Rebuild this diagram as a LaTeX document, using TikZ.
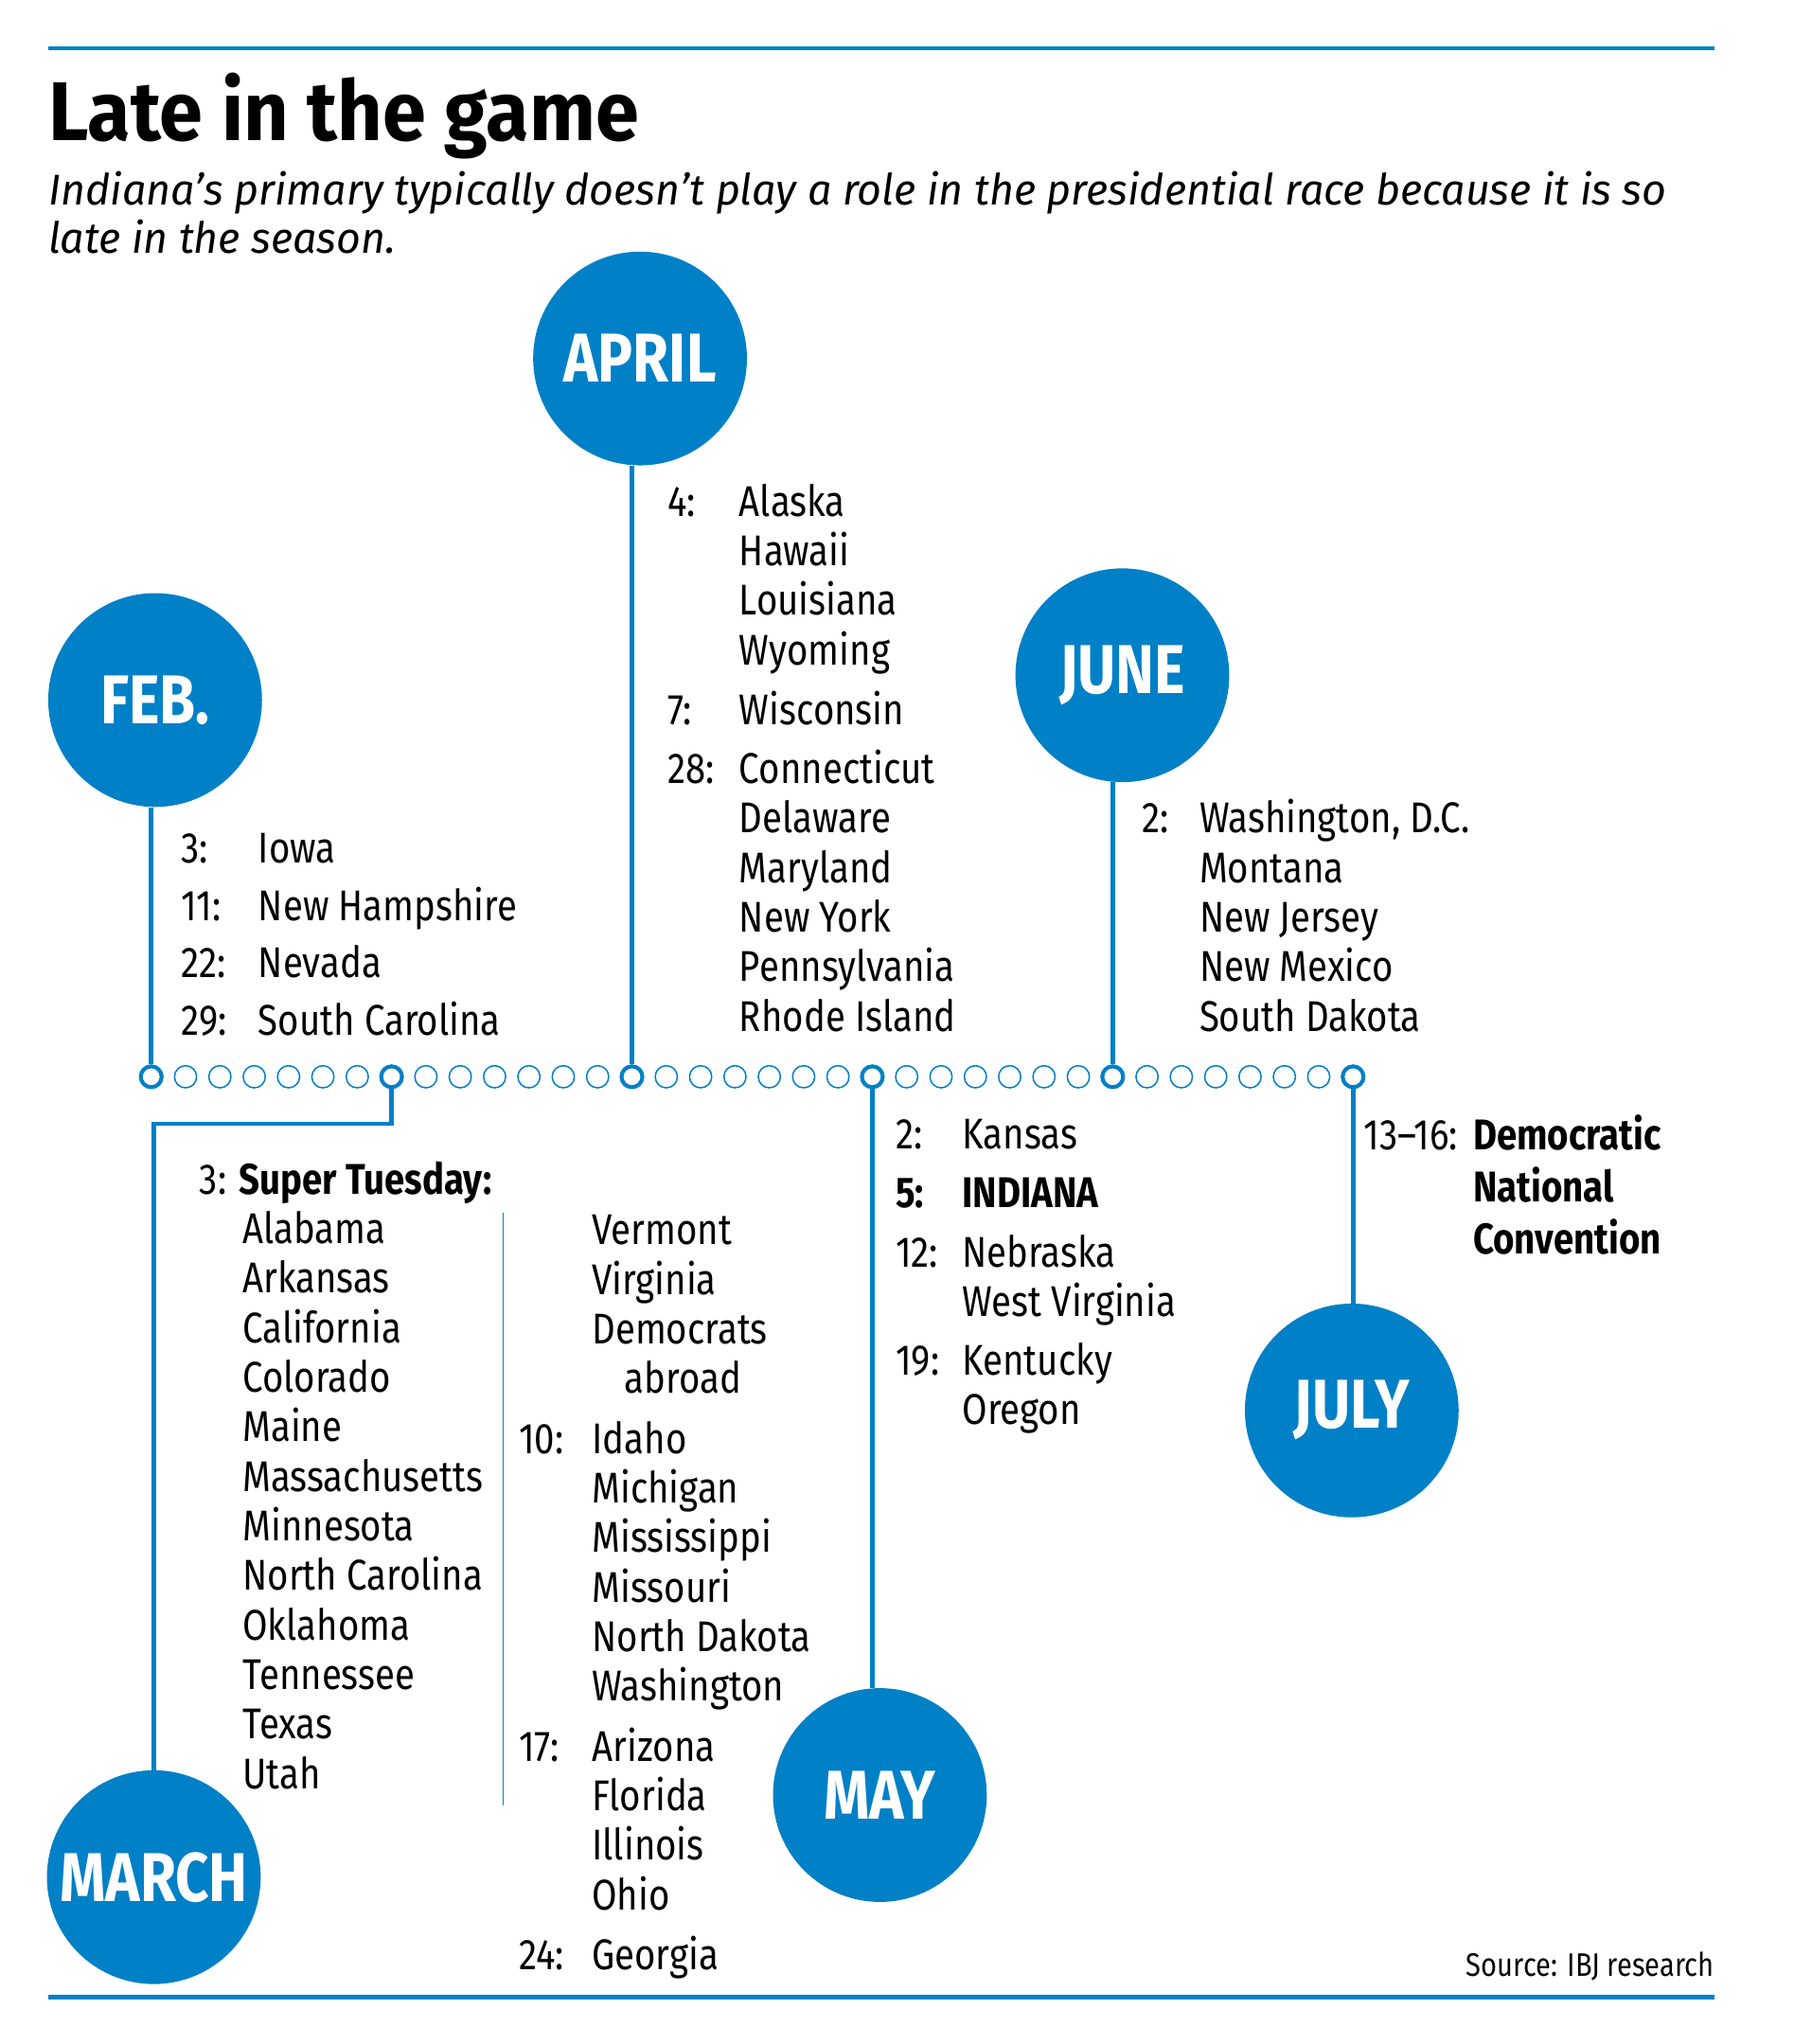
\documentclass[tikz,border=0pt]{standalone}
\usepackage{fontspec}
\setmainfont[FakeStretch=0.845]{Fira Sans}
\newfontfamily\titlefont[FakeStretch=0.94]{Fira Sans}
\newfontfamily\subfont[FakeStretch=0.985]{Fira Sans}
\usetikzlibrary{positioning}
\definecolor{ibjblue}{RGB}{0,128,198}

\begin{document}
\begin{tikzpicture}[x=1pt,y=-1pt,
      month/.style={circle, fill=ibjblue, text=white, minimum size=164pt, inner sep=0pt,
        font=\fontsize{53}{53}\selectfont\bfseries},
      day/.style={circle, draw=ibjblue, fill=white, minimum size=17pt, inner sep=0pt, line width=1.1pt},
      bigday/.style={day, minimum size=16pt, line width=3pt},
      link/.style={draw=ibjblue, line width=3.5pt},
      rule/.style={draw=ibjblue, line width=3.5pt},
      list/.style={anchor=base west, inner sep=0pt, font=\fontsize{33}{38}\selectfont}
    ]
    \useasboundingbox (0,0) rectangle (1376,1568);
    \draw [rule] (37,37) -- (1315,37) ;
    \draw [rule] (37,1532) -- (1315,1532) ;

    \node [anchor=base west, inner sep=0pt, font=\fontsize{64}{64}\titlefont\bfseries] (title) at (37,108) {Late in the game} ;
    \node [anchor=base west, inner sep=0pt, font=\fontsize{33}{37}\subfont\itshape] (sub) at (37,157)
      {\begin{tabular}[t]{@{}l@{}}Indiana’s primary typically doesn’t play a role in the presidential race because it is so\\ late in the season.\end{tabular}} ;

    % timeline
    \foreach \i in {0,...,35} {
      \pgfmathtruncatemacro\r{mod(\i,7)}
      \ifnum\r=0
        \node [bigday] (d\i) at ({116+184.4/7*\i},826) {} ;
      \else
        \node [day] (d\i) at ({116+184.4/7*\i},826) {} ;
      \fi
    }

    \node [month] (feb) at (119,537) {FEB.} ;
    \node [month] (apr) at (491,275) {APRIL} ;
    \node [month] (jun) at (861,518) {JUNE} ;
    \node [month] (jul) at (1037,1082) {JULY} ;
    \node [month] (may) at (675,1377) {MAY} ;
    \node [month] (mar) at (118,1440) {MARCH} ;
    \coordinate (bend) at (118,862) ;

    \draw [link] (d0) -- (d0 |- feb.south) ;
    \draw [link] (d14) -- (d14 |- apr.south) ;
    \draw [link] (d28) -- (d28 |- jun.south) ;
    \draw [link] (d7) |- (bend) -- (mar) ;
    \draw [link] (d21) -- (d21 |- may.north) ;
    \draw [link] (d35) -- (d35 |- jul.north) ;

    % lists
    \node [list, font=\fontsize{33}{44}\selectfont] (feblist) at (139,662)
      {\begin{tabular}[t]{@{}p{59pt}@{}l@{}}
        3: & Iowa\\ 11: & New Hampshire\\ 22: & Nevada\\ 29: & South Carolina
      \end{tabular}} ;
    \node [list] (aprlist) at (512,396)
      {\begin{tabular}[t]{@{}p{55pt}@{}l@{}}
        4: & Alaska\\ & Hawaii\\ & Louisiana\\ & Wyoming\\[8pt]
        7: & Wisconsin\\[7pt]
        28: & Connecticut\\ & Delaware\\ & Maryland\\ & New York\\ & Pennsylvania\\ & Rhode Island
      \end{tabular}} ;
    \node [list] (junlist) at (876,639)
      {\begin{tabular}[t]{@{}p{44pt}@{}l@{}}
        2: & Washington, D.C.\\ & Montana\\ & New Jersey\\ & New Mexico\\ & South Dakota
      \end{tabular}} ;
    \node [list] (marhead) at (153,916) {3: \textbf{Super Tuesday:}} ;
    \node [list] (marlist) at (186,954)
      {\begin{tabular}[t]{@{}l@{}}
        Alabama\\ Arkansas\\ California\\ Colorado\\ Maine\\ Massachusetts\\ Minnesota\\
        North Carolina\\ Oklahoma\\ Tennessee\\ Texas\\ Utah
      \end{tabular}} ;
    \draw [ibjblue, line width=1.1pt] (386,930) -- (386,1385) ;
    \node [list] (marlist2) at (398,955)
      {\begin{tabular}[t]{@{}p{56pt}@{}l@{}}
        & Vermont\\ & Virginia\\ & Democrats\\ & \hspace{25pt}abroad\\[8pt]
        10: & Idaho\\ & Michigan\\ & Mississippi\\ & Missouri\\ & North Dakota\\ & Washington\\[8pt]
        17: & Arizona\\ & Florida\\ & Illinois\\ & Ohio\\[8pt]
        24: & Georgia
      \end{tabular}} ;
    \node [list] (maylist) at (687,881)
      {\begin{tabular}[t]{@{}p{51pt}@{}l@{}}
        2: & Kansas\\[7pt]
        \textbf{5:} & \textbf{INDIANA}\\[8pt]
        12: & Nebraska\\ & West Virginia\\[7pt]
        19: & Kentucky\\ & Oregon
      \end{tabular}} ;
    \node [list, font=\fontsize{33}{40}\selectfont] (jullist) at (1046,882)
      {\begin{tabular}[t]{@{}p{84pt}@{}l@{}}
        13–16: & \textbf{Democratic}\\ & \textbf{National}\\ & \textbf{Convention}
      \end{tabular}} ;

    \node [anchor=base east, inner sep=0pt, font=\fontsize{25}{25}\selectfont] (src) at (1315,1516) {Source: IBJ research} ;
  \end{tikzpicture}
\end{document}
